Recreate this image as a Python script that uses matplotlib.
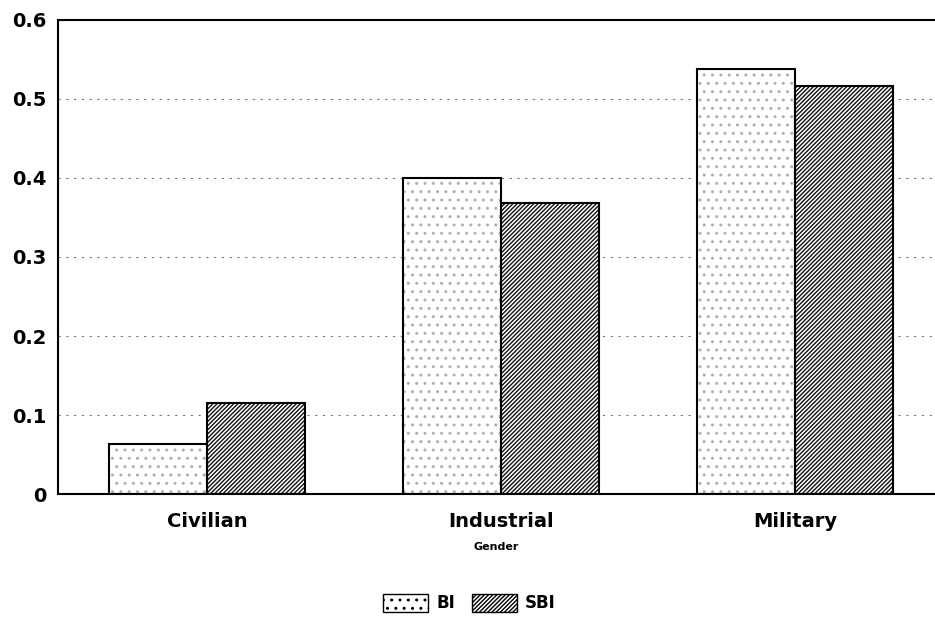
import matplotlib
matplotlib.use("Agg")
import matplotlib.pyplot as plt
import matplotlib.patches as mpatches
import numpy as np

plt.rcParams['font.family'] = ['DejaVu Sans']
plt.rcParams['hatch.linewidth'] = 1.0

# data
categories = ['Civilian', 'Industrial', 'Military']
series_names = ['BI', 'SBI']
bi_values = [0.063, 0.400, 0.538]
sbi_values = [0.115, 0.368, 0.516]

fig = plt.figure(figsize=(9.35, 6.23), dpi=100)
ax = fig.add_axes([0.062, 0.207, 0.938, 0.761])

x = np.arange(len(categories))
width = 0.333

# fill (hatch only) then outline on top
bi_style = dict(facecolor='white', edgecolor='#b0b0b0', hatch='..', linewidth=0)
sbi_style = dict(facecolor='white', edgecolor='#111111', hatch='////////', linewidth=0)

ax.bar(x - width / 2, bi_values, width, zorder=2, **bi_style)
ax.bar(x + width / 2, sbi_values, width, zorder=2, **sbi_style)
ax.bar(x - width / 2, bi_values, width, facecolor='none', edgecolor='black', linewidth=1.5, zorder=3)
ax.bar(x + width / 2, sbi_values, width, facecolor='none', edgecolor='black', linewidth=1.5, zorder=3)

ax.set_xlim(-0.508, 2.475)
ax.set_ylim(0, 0.6)
ax.set_yticks([0, 0.1, 0.2, 0.3, 0.4, 0.5, 0.6])
ax.set_yticklabels(['0', '0.1', '0.2', '0.3', '0.4', '0.5', '0.6'],
                   fontsize=14, fontweight='bold')
ax.set_xticks(x)
ax.set_xticklabels(categories, fontsize=14, fontweight='bold')
ax.tick_params(axis='both', length=0, pad=8)
ax.tick_params(axis='x', pad=13)
ax.set_xlabel('Gender', fontsize=8, fontweight='bold', labelpad=8)

ax.yaxis.grid(True, color='#777777', linestyle=(0, (2, 5)), linewidth=0.8, zorder=0)
ax.set_axisbelow(True)
ax.spines['right'].set_visible(False)
for s in ['left', 'top', 'bottom']:
    ax.spines[s].set_linewidth(1.5)

handles = [
    mpatches.Patch(label=series_names[0], facecolor='white', edgecolor='black',
                   hatch='..', linewidth=1.0),
    mpatches.Patch(label=series_names[1], facecolor='white', edgecolor='black',
                   hatch='////////', linewidth=1.0),
]
fig.legend(handles=handles, loc='center', bbox_to_anchor=(0.502, 0.032), ncol=2,
           frameon=False, prop={'size': 12, 'weight': 'bold'},
           handlelength=2.7, handleheight=1.3, columnspacing=1.0, handletextpad=0.5)

plt.savefig('out.png', dpi=100)
